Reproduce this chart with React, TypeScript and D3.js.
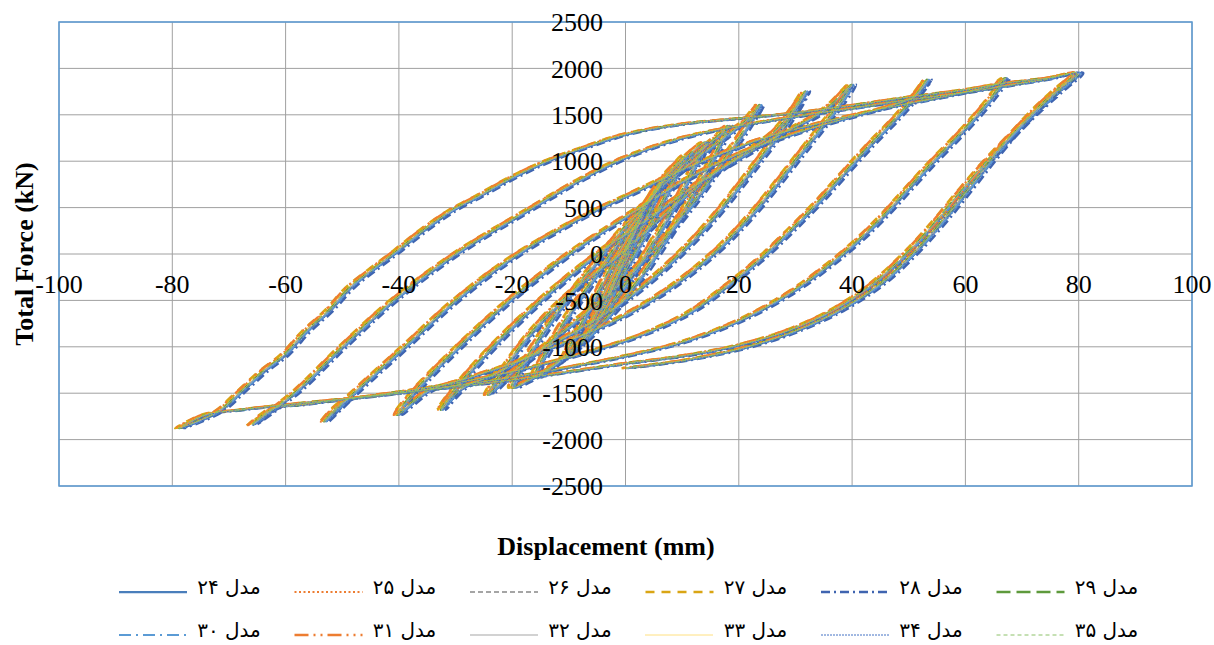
import React from 'react';
import * as d3 from 'd3';

type Pt = [number, number];

// model names (legend order)
const seriesNames = [
  'مدل ۲۴', 'مدل ۲۵', 'مدل ۲۶', 'مدل ۲۷', 'مدل ۲۸', 'مدل ۲۹',
  'مدل ۳۰', 'مدل ۳۱', 'مدل ۳۲', 'مدل ۳۳', 'مدل ۳۴', 'مدل ۳۵',
];

// small horizontal offset (mm) of each model's curves
const seriesShift = [0.3, -0.5, 0.1, -0.7, 0.9, 0, 0.4, -0.6, 0.1, -0.3, 0.6, -0.1];

// hysteresis branches, [displacement mm, force kN]
const startCycles: Pt[] = [
  [0, 0], [1.5, 250], [3, 420], [2, 280], [0, 30], [-1.5, -220], [-3, -420], [-2, -280], [0, -40],
  [2, 300], [5, 650], [6.5, 780], [4.5, 500], [1, 50], [-2, -330], [-5, -650], [-6.5, -800],
  [-4.5, -520], [-1, -60], [2.5, 380], [6, 760], [9.5, 1000], [10.5, 1060], [8, 740], [3.5, 220],
  [-1, -280], [-5, -720], [-9, -1030], [-10.5, -1110], [-8, -780], [-3.5, -250], [1, 260],
  [5.5, 700], [10, 1000], [14, 1200], [12, 930], [7.5, 400], [2, -150], [-3.5, -620], [-9, -1000],
  [-13, -1220], [-16, -1330], [-13.5, -1000], [-9, -560], [-4, -120], [1.5, 360], [7, 780],
  [12, 1060], [16.5, 1280], [18, 1380], [16, 1100], [12, 650], [7, 150], [1, -380], [-6, -860],
  [-12, -1170], [-18, -1390], [-20, -1440], [-17, -1080], [-12, -620], [-6, -150], [0, 300],
  [7, 760], [14, 1100], [19, 1330], [21.5, 1450], [23.6, 1606],
];
const unload24: Pt[] = [
  [23.6, 1606], [22, 1430], [19.5, 1200], [16, 900], [12, 560], [7.5, 220], [2.5, -110], [-3, -430],
  [-9.5, -760], [-16, -1080], [-20.5, -1300], [-24.3, -1516],
];
const reload24: Pt[] = [
  [-24.3, -1516], [-21, -1200], [-16, -800], [-9, -380], [-1, 0], [6, 380], [13, 750], [20, 1050],
  [26, 1300], [29.5, 1550], [31.7, 1751],
];
const unload32: Pt[] = [
  [31.7, 1751], [30, 1560], [27.5, 1330], [24, 1050], [20, 730], [15.5, 390], [10.5, 60], [5, -250],
  [-1.5, -560], [-9, -840], [-17, -1100], [-24, -1320], [-29, -1450], [-32.6, -1679],
];
const reload33: Pt[] = [
  [-32.6, -1679], [-30, -1450], [-23.5, -1000], [-15, -500], [-5, 0], [4, 380], [12, 730], [20, 1030],
  [27, 1280], [33, 1470], [36.5, 1620], [39.8, 1823],
];
const unload40: Pt[] = [
  [39.8, 1823], [37.8, 1620], [35, 1400], [31.5, 1130], [27.5, 820], [23, 480], [18, 150], [12.5, -150],
  [6, -440], [-2, -720], [-11, -960], [-20, -1180], [-28, -1340], [-35, -1480], [-40.3, -1733],
];
const reload40: Pt[] = [
  [-40.3, -1733], [-37.5, -1500], [-29.5, -1000], [-20.5, -500], [-10, 0], [0, 400], [10, 780],
  [20, 1080], [30, 1300], [40, 1480], [47, 1600], [51, 1700], [53.2, 1877],
];
const unload53: Pt[] = [
  [53.2, 1877], [50.8, 1680], [47.5, 1450], [43.5, 1200], [39, 900], [34, 560], [29, 250], [24, -40],
  [18, -340], [11, -640], [2, -890], [-8, -1080], [-18, -1240], [-28, -1370], [-38, -1470],
  [-45, -1530], [-49.5, -1580], [-53.2, -1805],
];
const reload53: Pt[] = [
  [-53.2, -1805], [-48, -1500], [-39, -1000], [-30, -500], [-19, 0], [-6, 450], [0, 620], [8, 850],
  [16, 1060], [25, 1260], [35, 1420], [45, 1560], [55, 1680], [62, 1770], [65.5, 1830], [67, 1895],
];
const unload67: Pt[] = [
  [67, 1895], [64.5, 1680], [61.5, 1460], [58, 1230], [54, 980], [49.5, 680], [45, 380], [40, 90],
  [35, -160], [28.5, -440], [20, -720], [10, -950], [0, -1100], [-10, -1220], [-20, -1330],
  [-30, -1420], [-40, -1500], [-50, -1570], [-58, -1630], [-62, -1660], [-66, -1841],
];
const reload66: Pt[] = [
  [-66, -1841], [-58.5, -1500], [-50, -1000], [-41, -500], [-30, 0], [-17, 480], [-8, 800], [0, 1040],
  [10, 1250], [20, 1380], [30, 1480], [40, 1570], [50, 1660], [60, 1740], [68, 1820], [74, 1880],
  [79.9, 1950],
];
const unload80: Pt[] = [
  [79.9, 1950], [76.5, 1760], [72.5, 1540], [68, 1270], [63.5, 980], [59, 660], [54.5, 330], [49.5, 0],
  [43.5, -330], [36.5, -610], [28.5, -830], [19.5, -990], [10, -1100], [0, -1180], [-10, -1270],
  [-20, -1360], [-30, -1430], [-40, -1500], [-50, -1565], [-60, -1625], [-68, -1680], [-74, -1730],
  [-78.8, -1877],
];
const reload79: Pt[] = [
  [-78.8, -1877], [-72, -1700], [-67.9, -1480], [-64, -1264], [-60.2, -1083], [-56.4, -830],
  [-52.5, -614], [-48.7, -361], [-44.2, -144], [-40.3, 36], [-35.8, 253], [-30.7, 469], [-26.2, 614],
  [-19.8, 830], [-13.4, 1011], [-6.9, 1155], [0, 1290], [10, 1400], [20, 1460], [30, 1520], [40, 1600],
  [50, 1690], [60, 1770], [67, 1840], [74, 1890], [79, 1930],
];
const finalUnload: Pt[] = [
  [79, 1930], [76, 1760], [72.5, 1560], [68.5, 1300], [64.5, 1010], [60.5, 700], [56, 360], [51, 20],
  [45, -320], [38, -600], [30, -830], [21, -1010], [11, -1140], [0, -1230],
];

const branches = [
  startCycles, unload24, reload24, unload32, reload33, unload40, reload40,
  unload53, reload53, unload67, reload66, unload80, reload79, finalUnload,
];

const xTickValues = [-100, -80, -60, -40, -20, 0, 20, 40, 60, 80, 100];
const yTickValues = [-2500, -2000, -1500, -1000, -500, 0, 500, 1000, 1500, 2000, 2500];

// line styles
const seriesColors = [
  '#4a7ebb', '#ed7d31', '#a5a5a5', '#d9a514', '#3f64b0', '#5e9a3c',
  '#5b9bd5', '#ed7d31', '#a5a5a5', '#ffc000', '#4472c4', '#8cc168',
];
const seriesDash = [
  '', '2 2.5', '5 3', '9 7', '9 4 2 4', '14 6',
  '12 5 2 5', '14 5 2 5 2 5', '', '1 1', '2 1', '4 3',
];
const seriesWidth = [2.25, 2, 2, 2.5, 2.5, 2.5, 2, 2.5, 1, 1, 1, 1];

const W = 1214;
const H = 645;
const serif = "'Liberation Serif', 'Times New Roman', serif";

export default function App() {
  const x = d3.scaleLinear().domain([-100, 100]).range([59, 1192]);
  const y = d3.scaleLinear().domain([-2500, 2500]).range([486, 22]);

  const path: Pt[] = branches.flatMap((b, i) => (i === 0 ? b : b.slice(1)));
  const line = d3
    .line<Pt>()
    .x((d) => x(d[0]))
    .y((d) => y(d[1]))
    .curve(d3.curveCatmullRom.alpha(0.5));

  return (
    <svg width={W} height={H} style={{ position: 'absolute', left: 0, top: 0 }}>
      <rect width={W} height={H} fill="#fff" />
      {/* grid */}
      {xTickValues.map((v) => (
        <line key={'gx' + v} x1={x(v)} x2={x(v)} y1={y(2500)} y2={y(-2500)} stroke="#a0a0a0" strokeWidth={1} />
      ))}
      {yTickValues.map((v) => (
        <line key={'gy' + v} x1={x(-100)} x2={x(100)} y1={y(v)} y2={y(v)} stroke="#a0a0a0" strokeWidth={1} />
      ))}

      {/* series */}
      {seriesNames.map((name, i) => {
        const pts: Pt[] = path.map((p) => [p[0] + seriesShift[i], p[1]]);
        return (
          <path
            key={name}
            d={line(pts) || ''}
            fill="none"
            stroke={seriesColors[i]}
            strokeWidth={seriesWidth[i]}
            strokeDasharray={seriesDash[i] || undefined}
          />
        );
      })}

      {/* plot border */}
      <rect x={x(-100)} y={y(2500)} width={x(100) - x(-100)} height={y(-2500) - y(2500)} fill="none" stroke="#5b9bd5" strokeWidth={1.5} />

      {/* tick labels */}
      {yTickValues.map((v) => (
        <text key={'ty' + v} x={603} y={y(v)} dy="0.35em" textAnchor="end" fontFamily={serif} fontSize={26} fill="#000">
          {v}
        </text>
      ))}
      {xTickValues.map((v) => (
        <text key={'tx' + v} x={x(v)} y={293} textAnchor="middle" fontFamily={serif} fontSize={26} fill="#000">
          {v}
        </text>
      ))}

      {/* axis titles */}
      <text x={606} y={555} textAnchor="middle" fontFamily={serif} fontSize={26} fontWeight="bold">
        Displacement (mm)
      </text>
      <text transform={`translate(33,${y(0)}) rotate(-90)`} textAnchor="middle" fontFamily={serif} fontSize={26} fontWeight="bold">
        Total Force (kN)
      </text>

      {/* legend */}
      {seriesNames.map((name, i) => {
        const col = i % 6;
        const row = Math.floor(i / 6);
        const lx = 119 + col * 175.5;
        const ly = row === 0 ? 592 : 635;
        return (
          <g key={'lg' + name}>
            <line
              x1={lx}
              x2={lx + 68}
              y1={ly}
              y2={ly}
              stroke={seriesColors[i]}
              strokeWidth={seriesWidth[i]}
              strokeDasharray={seriesDash[i] || undefined}
            />
            <text
              x={lx + 110}
              y={ly - 5}
              dy="0.35em"
              textAnchor="middle"
              fontFamily="'DejaVu Sans', sans-serif"
              fontSize={20}
              fill="#000"
            >
              {name}
            </text>
          </g>
        );
      })}
    </svg>
  );
}
